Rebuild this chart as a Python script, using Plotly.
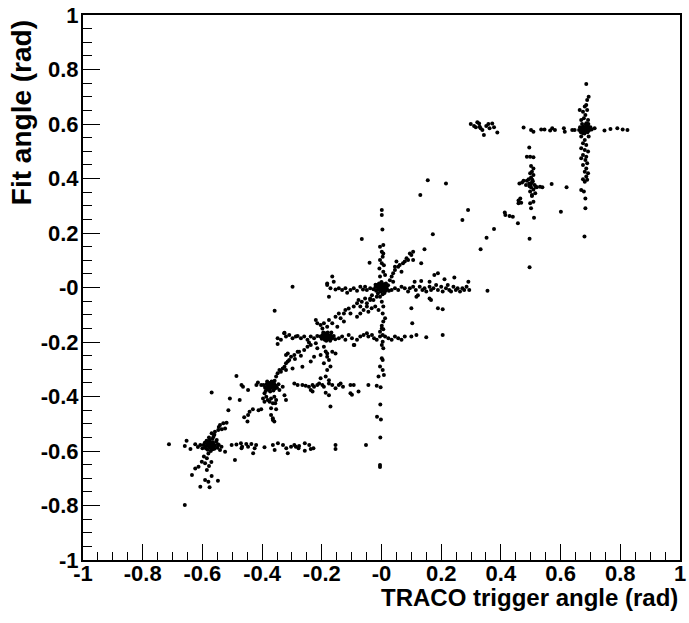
import plotly.graph_objects as go

# ---- data ----
tick_vals = [-1, -0.8, -0.6, -0.4, -0.2, 0, 0.2, 0.4, 0.6, 0.8, 1]
tick_text = ["-1", "-0.8", "-0.6", "-0.4", "-0.2", "-0", "0.2", "0.4", "0.6", "0.8", "1"]

c1_core = [(-0.574,-0.578),(-0.580,-0.572),(-0.568,-0.584),(-0.585,-0.580),(-0.563,-0.575),(-0.577,-0.565),
           (-0.570,-0.590),(-0.590,-0.585),(-0.558,-0.580),(-0.582,-0.595),(-0.565,-0.568),(-0.575,-0.560),
           (-0.592,-0.570),(-0.560,-0.592),(-0.548,-0.575),(-0.596,-0.578),(-0.572,-0.600),(-0.586,-0.562),
           (-0.554,-0.566),(-0.566,-0.555),(-0.578,-0.550),(-0.550,-0.588),(-0.600,-0.590),(-0.545,-0.578),
           (-0.571,-0.572),(-0.579,-0.583),(-0.569,-0.577),(-0.583,-0.574),(-0.573,-0.588),(-0.562,-0.584),
           (-0.588,-0.591),(-0.576,-0.569),(-0.566,-0.594)]
c1_arms = [(-0.569,-0.535),(-0.558,-0.529),(-0.541,-0.505),(-0.530,-0.498),(-0.519,-0.496),(-0.524,-0.517),
           (-0.547,-0.523),(-0.563,-0.548),(-0.552,-0.560),(-0.560,-0.540),(-0.545,-0.512),(-0.535,-0.520),
           (-0.712,-0.575),(-0.659,-0.582),(-0.653,-0.562),(-0.640,-0.593),(-0.624,-0.575),(-0.607,-0.578),
           (-0.615,-0.585),(-0.536,-0.584),(-0.524,-0.603),(-0.541,-0.596),
           (-0.580,-0.609),(-0.585,-0.627),(-0.591,-0.645),(-0.602,-0.639),(-0.613,-0.658),(-0.624,-0.664),
           (-0.635,-0.688),(-0.585,-0.670),(-0.569,-0.692),(-0.591,-0.706),(-0.580,-0.713),(-0.607,-0.731),
           (-0.576,-0.733),(-0.548,-0.709),(-0.578,-0.655),(-0.570,-0.640),(-0.595,-0.620),
           (-0.659,-0.798),(-0.491,-0.633)]
band_m058 = [(-0.502,-0.578),(-0.486,-0.576),(-0.471,-0.572),(-0.467,-0.584),(-0.453,-0.574),(-0.436,-0.574),
             (-0.425,-0.590),(-0.430,-0.608),(-0.420,-0.578),(-0.392,-0.586),(-0.364,-0.578),(-0.358,-0.596),
             (-0.347,-0.572),(-0.330,-0.578),(-0.319,-0.590),(-0.314,-0.608),(-0.303,-0.584),(-0.292,-0.578),
             (-0.469,-0.590),(-0.447,-0.584),(-0.287,-0.584),(-0.276,-0.582),(-0.278,-0.590),(-0.257,-0.572),
             (-0.257,-0.599),(-0.242,-0.578),(-0.237,-0.593),(-0.228,-0.590),(-0.154,-0.578),(-0.154,-0.593),
             (-0.052,-0.578),(-0.005,-0.651),(-0.005,-0.659)]
c1_c2_diag = [(-0.569,-0.385),(-0.513,-0.450),(-0.508,-0.407),(-0.486,-0.325),(-0.475,-0.413),(-0.469,-0.358),
              (-0.464,-0.364),(-0.447,-0.376),(-0.460,-0.476),(-0.447,-0.468),(-0.442,-0.456),(-0.431,-0.447),
              (-0.412,-0.450),(-0.403,-0.447),(-0.449,-0.492)]
c2_core = [(-0.370,-0.358),(-0.375,-0.350),(-0.365,-0.365),(-0.380,-0.362),(-0.360,-0.352),(-0.372,-0.370),
           (-0.385,-0.355),(-0.355,-0.360),(-0.368,-0.345),(-0.378,-0.375),(-0.362,-0.378),(-0.390,-0.368),
           (-0.350,-0.368),(-0.383,-0.345),(-0.358,-0.342),(-0.395,-0.358),(-0.345,-0.355),(-0.373,-0.382),
           (-0.388,-0.380),(-0.366,-0.350),(-0.374,-0.362),(-0.367,-0.357),(-0.379,-0.356),(-0.371,-0.366),
           (-0.362,-0.361),(-0.382,-0.371),(-0.357,-0.371)]
c2_vert = [(-0.392,-0.388),(-0.386,-0.401),(-0.381,-0.413),(-0.370,-0.407),(-0.375,-0.419),(-0.359,-0.401),
           (-0.353,-0.413),(-0.364,-0.425),(-0.370,-0.443),(-0.353,-0.447),(-0.370,-0.468),(-0.364,-0.480),
           (-0.359,-0.492),(-0.397,-0.407),(-0.392,-0.419),(-0.320,-0.413),(-0.325,-0.395),(-0.342,-0.376),
           (-0.331,-0.364),(-0.403,-0.358),(-0.419,-0.358),(-0.414,-0.349),(-0.364,-0.486),(-0.356,-0.425)]
c2_c3_diag = [(-0.353,-0.327),(-0.348,-0.315),(-0.337,-0.309),(-0.342,-0.303),(-0.331,-0.297),(-0.325,-0.291),
              (-0.320,-0.278),(-0.314,-0.272),(-0.309,-0.266),(-0.303,-0.254),(-0.292,-0.248),(-0.281,-0.236),
              (-0.276,-0.236),(-0.314,-0.242),(-0.320,-0.248),(-0.298,-0.297),(-0.320,-0.303),(-0.265,-0.291),
              (-0.237,-0.272),(-0.259,-0.229),(-0.248,-0.217),(-0.237,-0.211),(-0.220,-0.205),(-0.215,-0.223),
              (-0.226,-0.254),(-0.204,-0.248),(-0.270,-0.250),(-0.290,-0.262)]
band_m036 = [(-0.292,-0.352),(-0.281,-0.358),(-0.265,-0.358),(-0.254,-0.361),(-0.243,-0.364),(-0.231,-0.358),
             (-0.226,-0.364),(-0.215,-0.358),(-0.209,-0.352),(-0.198,-0.358),(-0.193,-0.364),(-0.176,-0.352),
             (-0.165,-0.358),(-0.154,-0.370),(-0.143,-0.358),(-0.137,-0.352),(-0.129,-0.364),(-0.231,-0.382),
             (-0.237,-0.376),(-0.176,-0.395),(-0.171,-0.437),(-0.187,-0.386),(-0.104,-0.358),(-0.099,-0.394),
             (-0.104,-0.388),(-0.093,-0.358),(-0.077,-0.382),(-0.044,-0.358),(-0.016,-0.361),(-0.003,-0.366)]
zero_vert_low = [(-0.004,-0.429),(-0.015,-0.474),(-0.002,-0.484),(-0.004,-0.550),(0.001,-0.150),(0.006,-0.153),
                 (-0.005,-0.162),(0.004,-0.199),(0.001,-0.211),(0.006,-0.223),(0.004,-0.266),(0.001,-0.260),
                 (-0.005,-0.290),(0.004,-0.303),(0.008,-0.321),(-0.010,-0.327)]
c3_core = [(-0.182,-0.180),(-0.188,-0.172),(-0.176,-0.188),(-0.193,-0.185),(-0.170,-0.175),(-0.185,-0.195),
           (-0.198,-0.175),(-0.165,-0.185),(-0.180,-0.165),(-0.190,-0.192),(-0.172,-0.195),(-0.200,-0.188),
           (-0.160,-0.178),(-0.186,-0.168),(-0.178,-0.182),(-0.195,-0.165),(-0.168,-0.165),(-0.205,-0.180),
           (-0.155,-0.190),(-0.184,-0.184),(-0.177,-0.176),(-0.190,-0.178),(-0.181,-0.190),(-0.173,-0.183),
           (-0.187,-0.186),(-0.194,-0.170),(-0.170,-0.190)]
c3_vert = [(-0.193,-0.217),(-0.187,-0.235),(-0.182,-0.254),(-0.176,-0.266),(-0.193,-0.278),(-0.171,-0.290),
           (-0.182,-0.303),(-0.187,-0.327),(-0.204,-0.333),(-0.176,-0.340),(-0.182,-0.242),(-0.165,-0.236),
           (-0.154,-0.242),(-0.204,-0.138),(-0.193,-0.131),(-0.198,-0.150),(-0.182,-0.144),(-0.215,-0.131),
           (-0.220,-0.119)]
band_m018 = [(-0.348,-0.186),(-0.337,-0.192),(-0.326,-0.168),(-0.320,-0.180),(-0.309,-0.174),(-0.298,-0.186),
             (-0.287,-0.180),(-0.281,-0.178),(-0.270,-0.186),(-0.259,-0.180),(-0.248,-0.192),(-0.243,-0.202),
             (-0.237,-0.180),(-0.226,-0.186),(-0.215,-0.178),(-0.348,-0.207),(-0.325,-0.166),
             (-0.143,-0.186),(-0.132,-0.180),(-0.121,-0.192),(-0.110,-0.174),(-0.099,-0.186),(-0.091,-0.211),
             (-0.082,-0.192),(-0.071,-0.180),(-0.060,-0.174),(-0.049,-0.168),(-0.044,-0.180),(-0.032,-0.174),
             (-0.025,-0.186),(-0.016,-0.192),(-0.005,-0.180),(0.004,-0.174),(0.012,-0.180),(0.023,-0.186),
             (0.034,-0.192),(0.045,-0.180),(0.056,-0.186),(0.067,-0.192),(0.078,-0.180),(0.100,-0.180),
             (0.117,-0.174),(0.150,-0.183),(0.205,-0.174),(-0.093,-0.211)]
c3_c0_diag = [(-0.176,-0.119),(-0.165,-0.131),(-0.154,-0.107),(-0.143,-0.095),(-0.137,-0.113),(-0.126,-0.095),
              (-0.121,-0.083),(-0.110,-0.077),(-0.104,-0.095),(-0.093,-0.070),(-0.082,-0.058),(-0.077,-0.046),
              (-0.066,-0.052),(-0.055,-0.040),(-0.049,-0.058),(-0.038,-0.040),(-0.032,-0.028),(-0.027,-0.046),
              (-0.016,-0.034),(-0.060,-0.083),(-0.071,-0.095),(-0.044,-0.089),(-0.082,-0.107),(-0.126,-0.125),
              (-0.148,-0.144),(-0.038,-0.046),(-0.049,-0.070),(-0.071,-0.070),(-0.033,-0.076),(-0.021,-0.070)]
band_0 = [(-0.182,0.009),(-0.171,-0.003),(-0.154,-0.007),(-0.143,-0.003),(-0.132,-0.009),(-0.121,-0.003),
          (-0.115,-0.019),(-0.104,-0.009),(-0.093,-0.003),(-0.082,-0.012),(-0.071,0.003),(-0.062,-0.007),
          (-0.055,0.003),(-0.049,-0.009),(-0.038,-0.003),(-0.027,-0.006),(-0.020,0.002),(-0.165,0.040),
          (-0.160,0.021),(-0.182,0.015),(-0.176,-0.034),
          (0.034,-0.009),(0.045,-0.003),(0.056,-0.009),(0.067,0.003),(0.078,-0.003),(0.089,-0.015),
          (0.095,-0.003),(0.106,0.003),(0.115,-0.009),(0.122,-0.028),(0.128,0.003),(0.137,-0.009),
          (0.144,-0.003),(0.150,-0.015),(0.161,0.003),(0.166,-0.009),(0.174,-0.003),(0.183,0.009),
          (0.189,-0.009),(0.200,0.003),(0.205,-0.015),(0.216,-0.003),(0.222,0.009),(0.227,-0.009),
          (0.233,-0.015),(0.241,0.003),(0.249,-0.009),(0.255,-0.003),(0.263,-0.015),(0.271,-0.003),
          (0.277,-0.009),(0.285,0.003),(0.294,-0.009),(0.291,0.021),(0.244,0.037),(0.211,0.030),
          (0.189,0.052),(0.177,0.046),(0.161,0.021),(0.133,0.024),(0.111,0.021),(0.161,-0.040),
          (0.166,-0.046),(0.117,-0.034)]
c0_core = [(0.001,-0.003),(-0.005,0.005),(0.008,-0.010),(-0.010,-0.008),(0.012,0.004),(-0.003,-0.015),
           (0.005,0.012),(-0.015,0.002),(0.018,-0.005),(-0.008,0.015),(0.010,-0.020),(-0.018,-0.012),
           (0.022,0.008),(0.000,0.020),(-0.012,-0.022),(0.015,0.015),(0.025,-0.012),(-0.020,0.010),
           (0.004,-0.025),(0.003,0.002),(-0.006,-0.004),(0.009,0.006),(-0.002,0.008),(0.006,-0.006),
           (-0.009,0.000),(0.014,-0.012),(0.002,-0.012),(-0.013,0.010),(0.017,0.004),(0.011,0.012),
           (-0.004,-0.008),(0.007,0.003)]
c0_vert = [(-0.005,0.150),(0.006,0.156),(0.001,0.131),(0.006,0.125),(-0.005,0.101),(0.001,0.089),
           (-0.007,0.070),(0.006,0.058),(0.012,0.046),(-0.005,0.040),(0.004,0.113),(0.008,0.082),
           (0.001,0.284),(0.001,0.266),(0.003,0.213),(-0.005,-0.034),(0.001,-0.052),(0.006,-0.070),
           (-0.010,-0.083),(0.004,-0.095),(0.012,-0.113),(0.006,-0.125),(0.001,-0.140)]
c0_arm = [(0.028,0.027),(0.034,0.040),(0.039,0.052),(0.045,0.064),(0.056,0.076),(0.061,0.083),(0.072,0.089),
          (0.078,0.095),(0.084,0.107),(0.089,0.101),(0.095,0.125),(0.100,0.119),(0.106,0.131),(0.106,0.101),
          (0.050,0.095),(0.045,0.076),(0.067,0.058),(0.039,0.021)]
scatter_iso = [(-0.066,0.178),(0.130,0.339),(0.155,0.394),(0.172,0.195),(0.144,0.140),(0.133,0.089),
               (-0.040,0.091),(0.271,0.248),(0.290,0.284),(0.332,0.140),(0.352,0.183),(0.377,0.215),
               (0.216,0.382),(0.355,-0.012),(0.413,0.275),(0.415,0.266),(0.429,0.262),(0.440,0.260),
               (0.457,0.236),(0.496,0.179),(0.496,0.074),(0.511,0.256),(0.601,0.278),(0.620,0.368),
               (0.570,0.380),(0.680,0.187),(0.100,-0.076),(0.189,-0.076),(0.205,-0.080),(0.103,-0.131),
               (-0.298,0.003),(-0.358,-0.085)]
c06_left = [(0.299,0.600),(0.310,0.593),(0.321,0.606),(0.327,0.602),(0.332,0.584),(0.338,0.578),(0.343,0.560),
            (0.329,0.590),(0.351,0.593),(0.358,0.600),(0.362,0.584),(0.371,0.602),(0.377,0.588),(0.388,0.569),
            (0.316,0.588)]
band_058 = [(0.476,0.587),(0.501,0.578),(0.509,0.572),(0.535,0.580),(0.546,0.580),(0.565,0.576),(0.572,0.584),
            (0.581,0.578),(0.611,0.584),(0.614,0.572),(0.639,0.578),(0.647,0.578),(0.714,0.584),(0.747,0.576),
            (0.767,0.582),(0.790,0.584),(0.808,0.580),(0.824,0.578)]
c5_core = [(0.681,0.584),(0.675,0.590),(0.688,0.578),(0.670,0.580),(0.692,0.592),(0.678,0.572),(0.685,0.598),
           (0.665,0.588),(0.696,0.582),(0.680,0.565),(0.672,0.600),(0.690,0.570),(0.700,0.588),(0.662,0.578),
           (0.684,0.590),(0.677,0.583),(0.693,0.600),(0.668,0.570),(0.704,0.580),(0.686,0.585),(0.679,0.578),
           (0.674,0.585),(0.690,0.586),(0.683,0.576),(0.695,0.576)]
c5_vert = [(0.686,0.747),(0.694,0.700),(0.689,0.688),(0.686,0.670),(0.681,0.664),(0.689,0.651),(0.675,0.645),
           (0.683,0.633),(0.678,0.621),(0.669,0.615),(0.692,0.615),(0.686,0.603),(0.664,0.651),
           (0.669,0.554),(0.681,0.541),(0.675,0.529),(0.686,0.523),(0.669,0.511),(0.681,0.505),(0.692,0.499),
           (0.675,0.486),(0.686,0.480),(0.669,0.474),(0.683,0.468),(0.689,0.456),(0.675,0.450),(0.686,0.437),
           (0.681,0.425),(0.692,0.419),(0.686,0.407),(0.675,0.397),(0.681,0.388),(0.689,0.395),(0.669,0.358),
           (0.678,0.352),(0.683,0.327),(0.683,0.291),(0.675,0.566),(0.694,0.554)]
c4 = [(0.495,0.514),(0.487,0.480),(0.498,0.480),(0.509,0.478),(0.501,0.446),(0.509,0.437),(0.504,0.425),
      (0.498,0.419),(0.509,0.413),(0.501,0.404),(0.493,0.397),(0.487,0.392),(0.495,0.382),(0.504,0.385),
      (0.513,0.376),(0.501,0.368),(0.517,0.370),(0.509,0.360),(0.520,0.368),(0.531,0.370),(0.539,0.368),
      (0.462,0.382),(0.471,0.385),(0.476,0.392),(0.484,0.376),(0.498,0.352),(0.504,0.336),(0.509,0.315),
      (0.498,0.309),(0.501,0.291),(0.504,0.339),(0.465,0.327),(0.459,0.319),(0.468,0.311),(0.459,0.309),
      (0.515,0.346),(0.500,0.378),(0.507,0.390),(0.496,0.372),(0.505,0.395)]

groups = [c1_core, c1_arms, band_m058, c1_c2_diag, c2_core, c2_vert, c2_c3_diag, band_m036, zero_vert_low,
          c3_core, c3_vert, band_m018, c3_c0_diag, band_0, c0_core, c0_vert, c0_arm, scatter_iso,
          c06_left, band_058, c5_core, c5_vert, c4]

xs, ys = [], []
for g in groups:
    for px, py in g:
        xs.append(px)
        ys.append(py)

FONT = "Liberation Sans, Arial, Helvetica, sans-serif"

fig = go.Figure(go.Scatter(x=xs, y=ys, mode="markers",
                           marker=dict(color="black", size=4, line=dict(width=0)),
                           hoverinfo="skip", showlegend=False))

axis_common = dict(range=[-1, 1], tickvals=tick_vals, ticktext=tick_text, ticks="inside",
                   tickwidth=1, tickcolor="black", showline=True, linecolor="black", linewidth=2,
                   mirror=True, showgrid=False, zeroline=False, ticklabeloverflow="allow",
                   tickfont=dict(family=FONT, size=22, color="black", weight=700))

fig.update_xaxes(**axis_common, ticklen=16, ticklabelstandoff=-7,
                 minor=dict(ticks="inside", ticklen=8, dtick=0.05, tick0=0, tickcolor="black",
                            tickwidth=1, showgrid=False))
fig.update_yaxes(**axis_common, ticklen=17, ticklabelstandoff=-2,
                 minor=dict(ticks="inside", ticklen=9, dtick=0.05, tick0=0, tickcolor="black",
                            tickwidth=1, showgrid=False))

fig.update_layout(
    width=689, height=623,
    margin=dict(l=83, r=3, t=15, b=63, pad=0),
    paper_bgcolor="white", plot_bgcolor="white",
    annotations=[
        dict(text="TRACO trigger angle (rad)", xref="paper", yref="paper", x=1.0, y=-0.069,
             xanchor="right", yanchor="middle", showarrow=False,
             font=dict(family=FONT, size=24, color="black", weight=700)),
        dict(text="Fit angle (rad)", xref="paper", yref="paper", x=-0.104, y=0.995,
             xanchor="center", yanchor="top", textangle=-90, showarrow=False,
             font=dict(family=FONT, size=28, color="black", weight=700)),
    ],
)

fig.write_html("out.html")
